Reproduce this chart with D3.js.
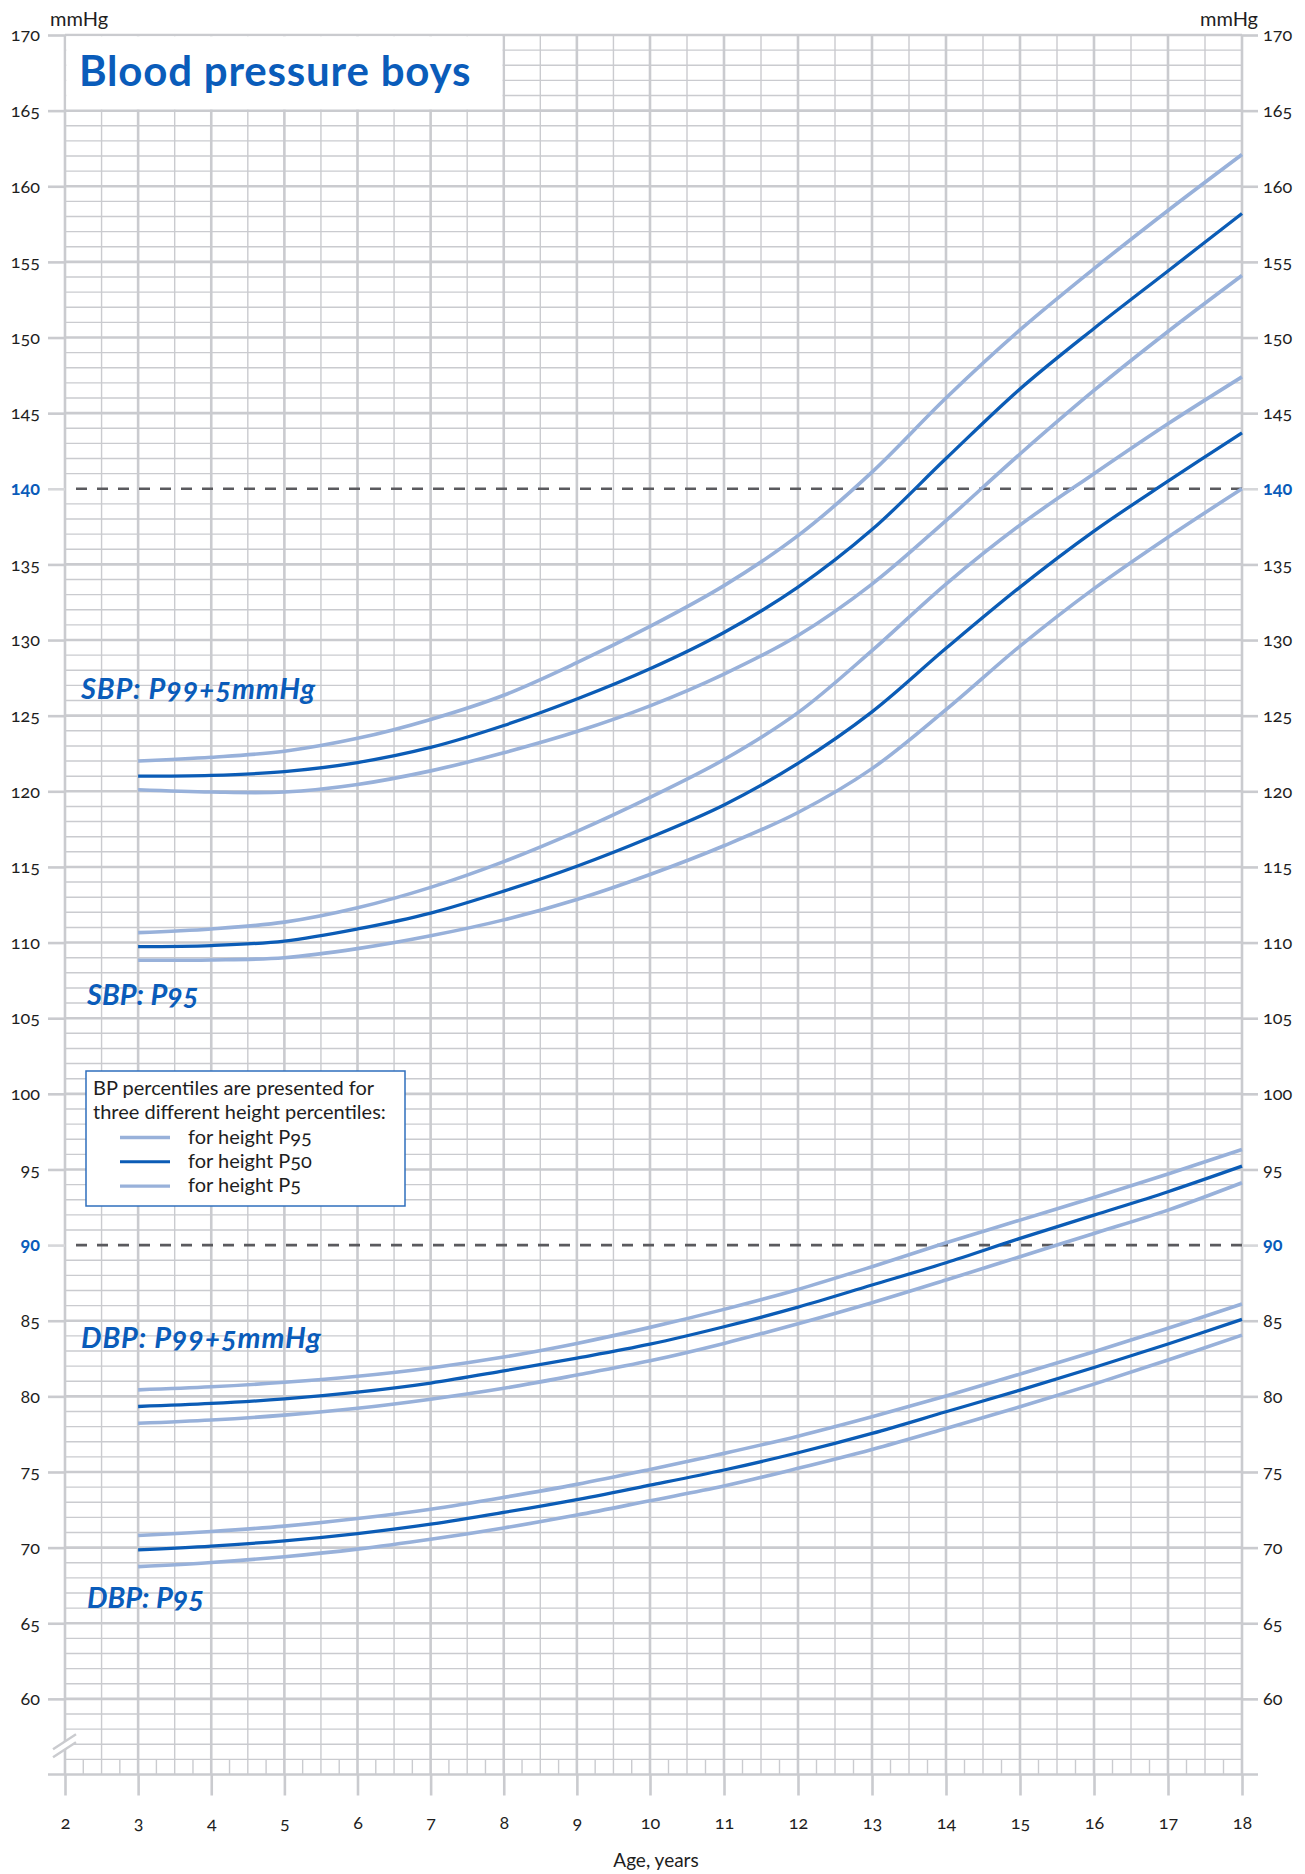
<!DOCTYPE html>
<html><head><meta charset="utf-8">
<script src="https://cdn.jsdelivr.net/npm/d3@7"></script>
<style>
html,body{margin:0;padding:0;background:#fff;}
svg{display:block;font-family:Lato,"Open Sans",sans-serif;font-variant-numeric:oldstyle-nums;}
</style></head><body>
<svg id="chart" width="1305" height="1874"></svg>
<script>
// ---------- data ----------
const ages = [3,4,5,6,7,8,9,10,11,12,13,14,15,16,17,18];
const xTicks = [2,3,4,5,6,7,8,9,10,11,12,13,14,15,16,17,18];
const yTicks = [60,65,70,75,80,85,90,95,100,105,110,115,120,125,130,135,140,145,150,155,160,165,170];
const refLines = [140, 90];

// SBP P99 + 5 mmHg
const sbp99_h95 = [122.0,122.25,122.65,123.5,124.75,126.35,128.5,130.9,133.6,136.9,141.1,146.0,150.5,154.55,158.4,162.1];
const sbp99_h50 = [121.0,121.05,121.3,121.9,122.9,124.35,126.1,128.1,130.5,133.5,137.3,142.0,146.6,150.6,154.4,158.2];
const sbp99_h5  = [120.1,119.95,119.95,120.45,121.35,122.55,123.95,125.65,127.75,130.3,133.7,137.9,142.3,146.5,150.4,154.1];
// SBP P95
const sbp95_h95 = [110.66,110.9,111.35,112.3,113.65,115.35,117.35,119.6,122.1,125.2,129.3,133.7,137.6,141.0,144.3,147.4];
const sbp95_h50 = [109.73,109.8,110.1,110.9,111.95,113.4,115.05,116.95,119.1,121.85,125.25,129.45,133.5,137.2,140.5,143.7];
const sbp95_h5  = [108.83,108.85,109.0,109.6,110.45,111.5,112.85,114.5,116.4,118.6,121.5,125.4,129.6,133.4,136.8,140.0];
// DBP P99 + 5 mmHg
const dbp99_h95 = [80.43,80.63,80.93,81.33,81.88,82.6,83.5,84.56,85.75,87.07,88.57,90.15,91.65,93.15,94.7,96.32];
const dbp99_h50 = [79.33,79.53,79.83,80.28,80.88,81.68,82.53,83.45,84.6,85.9,87.36,88.83,90.44,91.98,93.53,95.22];
const dbp99_h5  = [78.22,78.44,78.76,79.21,79.81,80.53,81.41,82.35,83.5,84.8,86.19,87.69,89.23,90.77,92.31,94.12];
// DBP P95
const dbp95_h95 = [70.8,71.07,71.42,71.92,72.54,73.32,74.18,75.17,76.23,77.37,78.65,80.02,81.47,82.95,84.5,86.1];
const dbp95_h50 = [69.85,70.1,70.45,70.93,71.55,72.33,73.18,74.13,75.13,76.27,77.55,78.98,80.41,81.91,83.46,85.09];
const dbp95_h5  = [68.74,69.02,69.4,69.9,70.55,71.3,72.15,73.1,74.07,75.24,76.49,77.88,79.31,80.81,82.4,84.05];

const groupLabels = ["SBP: P99+5mmHg","SBP: P95","DBP: P99+5mmHg","DBP: P95"];
const legendTitle = ["BP percentiles are presented for","three different height percentiles:"];
const legendItems = ["for height P95","for height P50","for height P5"];

// ---------- setup ----------
const LIGHT = "#98b1da", DARK = "#0b5cb6", BLUE = "#0a5cba", GRID = "#cacbcf", TXT = "#1e1e1e";
const svg = d3.select("#chart");
const x = d3.scaleLinear().domain([2,10,18]).range([65,650,1242]);
const y = d3.scaleLinear().domain([55,170]).range([1774.5,35]);
const X0 = x(2), X1 = x(18);

const grid = svg.append("g");
grid.selectAll(".hmin").data(d3.range(56,170).filter(v=>v%5!==0)).join("line")
  .attr("x1",X0).attr("x2",X1).attr("y1",d=>y(d)).attr("y2",d=>y(d))
  .attr("stroke",GRID).attr("stroke-width",1.4);
grid.selectAll(".vmin").data(d3.range(2.5,18,1)).join("line")
  .attr("x1",d=>x(d)).attr("x2",d=>x(d)).attr("y1",y(170)).attr("y2",y(55))
  .attr("stroke",GRID).attr("stroke-width",1.4);
grid.selectAll(".vq").data(d3.range(2.25,18,0.5)).join("line")
  .attr("x1",d=>x(d)).attr("x2",d=>x(d)).attr("y1",y(56)).attr("y2",y(55))
  .attr("stroke",GRID).attr("stroke-width",1.4);
grid.selectAll(".hmaj").data(d3.range(60,171,5).filter(v=>!refLines.includes(v))).join("line")
  .attr("x1",X0).attr("x2",X1).attr("y1",d=>y(d)).attr("y2",d=>y(d))
  .attr("stroke",GRID).attr("stroke-width",2.6);
grid.selectAll(".vmaj").data(xTicks).join("line")
  .attr("x1",d=>x(d)).attr("x2",d=>x(d)).attr("y1",y(170)).attr("y2",y(55))
  .attr("stroke",GRID).attr("stroke-width",2.6);
grid.append("line").attr("x1",X0-17).attr("x2",X1+16).attr("y1",y(55)).attr("y2",y(55))
  .attr("stroke",GRID).attr("stroke-width",2.6);

// axis break mark
const bk = svg.append("g");
bk.append("path").attr("d",`M${X0-12},${y(57)+13} L${X0+11},${y(57)-2} L${X0+11},${y(57)-10} L${X0-12},${y(57)+5}Z`).attr("fill","#fff");
[0,8].forEach(o=>{
  bk.append("line").attr("x1",X0-12).attr("y1",y(57)+5+o).attr("x2",X0+11).attr("y2",y(57)-10+o)
    .attr("stroke",GRID).attr("stroke-width",2.4);
});

// title box
svg.append("rect").attr("x",X0+1.3).attr("y",y(170)+1.3).attr("width",x(8)-X0-2.6).attr("height",y(165)-y(170)-2.6).attr("fill","#fff");
svg.append("text").attr("x",79).attr("y",86).attr("fill",BLUE).attr("font-size",42).attr("font-weight",700)
  .attr("letter-spacing",0.8).text("Blood pressure boys");

// axes
function styleAxis(g){
  g.select(".domain").remove();
  g.selectAll(".tick line").attr("stroke",GRID).attr("stroke-width",2.6);
  g.selectAll(".tick text").attr("fill",TXT).attr("font-size",18).attr("font-family","Lato, sans-serif");
  g.selectAll(".tick").filter(d=>refLines.includes(d)).select("text").attr("fill",BLUE).attr("font-weight",700);
  g.selectAll(".tick").filter(d=>refLines.includes(d)).select("line").attr("stroke","#d6d7da");
}
svg.append("g").attr("transform",`translate(${X0},0)`)
  .call(d3.axisLeft(y).tickValues(yTicks).tickSize(17).tickPadding(8).tickFormat(d3.format("d"))).call(styleAxis);
svg.append("g").attr("transform",`translate(${X1},0)`)
  .call(d3.axisRight(y).tickValues(yTicks).tickSize(16).tickPadding(5).tickFormat(d3.format("d"))).call(styleAxis);
svg.append("g").attr("transform",`translate(0,${y(55)})`)
  .call(d3.axisBottom(x).tickValues(xTicks).tickSize(21).tickPadding(21).tickFormat(d3.format("d"))).call(styleAxis);

// reference dashed lines
svg.selectAll(".ref").data(refLines).join("line")
  .attr("x1",X0+11).attr("x2",X1).attr("y1",d=>y(d)).attr("y2",d=>y(d))
  .attr("stroke","#5a5a5e").attr("stroke-width",2.6).attr("stroke-dasharray","11,10");

// curves
const line = d3.line().x((d,i)=>x(ages[i])).y(d=>y(d)).curve(d3.curveCatmullRom.alpha(0.5));
const lights = [sbp99_h95,sbp99_h5,sbp95_h95,sbp95_h5,dbp99_h95,dbp99_h5,dbp95_h95,dbp95_h5];
const darks = [sbp99_h50,sbp95_h50,dbp99_h50,dbp95_h50];
svg.append("g").selectAll("path").data(lights).join("path")
  .attr("d",line).attr("fill","none").attr("stroke",LIGHT).attr("stroke-width",3.6);
svg.append("g").selectAll("path").data(darks).join("path")
  .attr("d",line).attr("fill","none").attr("stroke",DARK).attr("stroke-width",3.3);

// group labels
const labelPos = [[2.22,126.1],[2.3,105.85],[2.22,83.2],[2.3,66.0]];
svg.append("g").selectAll("text").data(groupLabels).join("text")
  .attr("x",(d,i)=>x(labelPos[i][0])).attr("y",(d,i)=>y(labelPos[i][1]))
  .attr("fill",BLUE).attr("font-size",29).attr("font-weight",700).attr("font-style","italic")
  .attr("letter-spacing",(d,i)=>i%2===0?0.8:0).text(d=>d);

// unit labels
svg.append("text").attr("x",50).attr("y",26).attr("font-size",20).attr("fill",TXT).text("mmHg");
svg.append("text").attr("x",1258).attr("y",26).attr("font-size",20).attr("fill",TXT).attr("text-anchor","end").text("mmHg");
svg.append("text").attr("x",656).attr("y",1867).attr("font-size",19).attr("fill",TXT).attr("text-anchor","middle").text("Age, years");

// legend
const lg = svg.append("g");
lg.append("rect").attr("x",86).attr("y",1071).attr("width",319).attr("height",135)
  .attr("fill","#fff").attr("stroke","#2f6fbd").attr("stroke-width",1.5);
lg.selectAll(".lt").data(legendTitle).join("text").attr("x",93).attr("y",(d,i)=>1095+i*23.5)
  .attr("font-size",20).attr("fill",TXT).text(d=>d);
const lgCol = [LIGHT,DARK,LIGHT];
lg.selectAll(".ll").data(legendItems).join("line").attr("x1",120).attr("x2",170)
  .attr("y1",(d,i)=>1137.5+i*24.3).attr("y2",(d,i)=>1137.5+i*24.3)
  .attr("stroke",(d,i)=>lgCol[i]).attr("stroke-width",(d,i)=>i===1?3:3.4);
lg.selectAll(".li").data(legendItems).join("text").attr("x",188).attr("y",(d,i)=>1143.5+i*24.3)
  .attr("font-size",20).attr("fill",TXT).text(d=>d);
</script>
</body></html>
